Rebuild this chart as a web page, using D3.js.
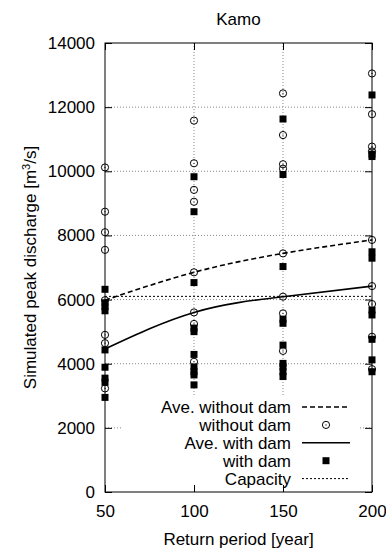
<!DOCTYPE html>
<html>
<head>
<meta charset="utf-8">
<script src="https://cdn.jsdelivr.net/npm/d3@7"></script>
<style>
  body { margin: 0; background: #fff; }
  text { font-family: "Liberation Sans", Arial, sans-serif; }
</style>
</head>
<body>
<div id="chart"></div>
<script>
// return periods (x categories)
const returnPeriods = [50, 100, 150, 200]

// simulated peaks without dam, one list per return period
const withoutDam50 = [10120, 8740, 8100, 7550, 5980, 4900, 4640, 3230]
const withoutDam100 = [11580, 10250, 9420, 9050, 6850, 5600, 5240, 4060]
const withoutDam150 = [12430, 11130, 10220, 10080, 7440, 6090, 5570, 4400]
const withoutDam200 = [13050, 11780, 10770, 10620, 7860, 6420, 5860, 4840, 3830]

// simulated peaks with dam
const withDam50 = [6320, 5900, 5780, 5650, 4430, 3890, 3550, 3420, 2950]
const withDam100 = [9830, 8740, 6530, 5110, 5000, 4290, 3900, 3750, 3650, 3340]
const withDam150 = [11630, 9900, 7030, 5390, 5260, 4580, 4010, 3910, 3750, 3600]
const withDam200 = [12380, 10530, 10460, 7490, 7290, 5670, 5520, 4760, 4120, 3750]

// averages
const aveWithoutDam = [5980, 6850, 7440, 7860]
const aveWithDam = [4460, 5600, 6090, 6420]

const capacity = 6100

const yTicks = [0, 2000, 4000, 6000, 8000, 10000, 12000, 14000]
const xTicks = [50, 100, 150, 200]

const legendLabels = ["Ave. without dam", "without dam", "Ave. with dam", "with dam", "Capacity"]

const W = 386, H = 549
const margin = { top: 43, right: 14, bottom: 57, left: 105 }
const width = W - margin.left - margin.right
const height = H - margin.top - margin.bottom

const withoutDam = [withoutDam50, withoutDam100, withoutDam150, withoutDam200]
const withDam = [withDam50, withDam100, withDam150, withDam200]

const svg = d3.select("#chart").append("svg")
  .attr("width", W)
  .attr("height", H)

const g = svg.append("g")
  .attr("transform", "translate(" + margin.left + "," + margin.top + ")")

const x = d3.scaleLinear().domain([50, 200]).range([0, width])
const y = d3.scaleLinear().domain([0, 14000]).range([height, 0])

// grid
g.append("g").selectAll("line")
  .data(yTicks.filter(d => d > 0 && d < 14000))
  .join("line")
  .attr("x1", 0).attr("x2", width)
  .attr("y1", d => y(d)).attr("y2", d => y(d))
  .attr("stroke", "#888").attr("stroke-width", 1)
  .attr("stroke-dasharray", "1,2")

g.append("g").selectAll("line")
  .data(xTicks.filter(d => d > 50 && d < 200))
  .join("line")
  .attr("x1", d => x(d)).attr("x2", d => x(d))
  .attr("y1", 0).attr("y2", height)
  .attr("stroke", "#888").attr("stroke-width", 1)
  .attr("stroke-dasharray", "1,2")

// capacity
g.append("line")
  .attr("x1", 0).attr("x2", width)
  .attr("y1", y(capacity)).attr("y2", y(capacity))
  .attr("stroke", "#000").attr("stroke-width", 1)
  .attr("stroke-dasharray", "2,2")

// averages
const line = d3.line()
  .x((d, i) => x(returnPeriods[i]))
  .y(d => y(d))
  .curve(d3.curveNatural)

g.append("path")
  .datum(aveWithoutDam)
  .attr("d", line)
  .attr("fill", "none").attr("stroke", "#000").attr("stroke-width", 1.6)
  .attr("stroke-dasharray", "5,3")

g.append("path")
  .datum(aveWithDam)
  .attr("d", line)
  .attr("fill", "none").attr("stroke", "#000").attr("stroke-width", 1.6)

// points
function circlePts(sel) {
  sel.append("circle").attr("r", 3.6)
    .attr("fill", "none").attr("stroke", "#000").attr("stroke-width", 1)
  sel.append("circle").attr("r", 0.6).attr("fill", "#000")
}
function squarePts(sel) {
  sel.append("rect").attr("x", -3.5).attr("y", -3.5)
    .attr("width", 7).attr("height", 7).attr("fill", "#000")
}

const circData = withoutDam.flatMap((arr, i) => arr.map(v => [returnPeriods[i], v]))
const sqData = withDam.flatMap((arr, i) => arr.map(v => [returnPeriods[i], v]))

g.append("g").selectAll("g")
  .data(circData)
  .join("g")
  .attr("transform", d => "translate(" + x(d[0]) + "," + y(d[1]) + ")")
  .call(circlePts)

g.append("g").selectAll("g")
  .data(sqData)
  .join("g")
  .attr("transform", d => "translate(" + x(d[0]) + "," + y(d[1]) + ")")
  .call(squarePts)

// legend box (hides grid)
g.append("rect")
  .attr("x", 16).attr("y", 354)
  .attr("width", 239).attr("height", 94)
  .attr("fill", "#fff")

const legX = 186, sampleX1 = 197, sampleX2 = 245
const legY0 = 364, legStep = 17.9
const legend = g.append("g")
legendLabels.forEach((lab, i) => {
  const ly = legY0 + i * legStep
  legend.append("text")
    .attr("x", legX).attr("y", ly)
    .attr("dy", "0.35em")
    .attr("text-anchor", "end")
    .attr("font-size", 17)
    .text(lab)
  if (i == 0) {
    legend.append("line").attr("x1", sampleX1).attr("x2", sampleX2)
      .attr("y1", ly).attr("y2", ly)
      .attr("stroke", "#000").attr("stroke-width", 1.6).attr("stroke-dasharray", "5,3")
  } else if (i == 2) {
    legend.append("line").attr("x1", sampleX1).attr("x2", sampleX2)
      .attr("y1", ly).attr("y2", ly)
      .attr("stroke", "#000").attr("stroke-width", 1.6)
  } else if (i == 4) {
    legend.append("line").attr("x1", sampleX1).attr("x2", sampleX2)
      .attr("y1", ly).attr("y2", ly)
      .attr("stroke", "#000").attr("stroke-width", 1).attr("stroke-dasharray", "2,2")
  } else if (i == 1) {
    legend.append("g").attr("transform", "translate(" + (sampleX1 + sampleX2) / 2 + "," + ly + ")").call(circlePts)
  } else {
    legend.append("g").attr("transform", "translate(" + (sampleX1 + sampleX2) / 2 + "," + ly + ")").call(squarePts)
  }
})

// axes with inward ticks on all sides
const yAxis = g.append("g")
  .call(d3.axisLeft(y).tickValues(yTicks).tickFormat(d3.format("d")).tickSize(-7).tickPadding(10))
yAxis.selectAll("text").attr("font-size", 17).attr("fill", "#000")

const xAxis = g.append("g")
  .attr("transform", "translate(0," + height + ")")
  .call(d3.axisBottom(x).tickValues(xTicks).tickFormat(d3.format("d")).tickSize(-7).tickPadding(13))
xAxis.selectAll("text").attr("font-size", 17).attr("fill", "#000")

g.append("g")
  .attr("transform", "translate(" + width + ",0)")
  .call(d3.axisRight(y).tickValues(yTicks).tickSize(-7).tickFormat(""))

g.append("g")
  .call(d3.axisTop(x).tickValues(xTicks).tickSize(-7).tickFormat(""))

g.selectAll(".domain").remove()

g.append("rect")
  .attr("width", width).attr("height", height)
  .attr("fill", "none").attr("stroke", "#000").attr("stroke-width", 1)

// titles
svg.append("text")
  .attr("x", margin.left + width / 2).attr("y", 25)
  .attr("text-anchor", "middle")
  .attr("font-size", 17)
  .text("Kamo")

svg.append("text")
  .attr("x", margin.left + width / 2).attr("y", 545)
  .attr("text-anchor", "middle")
  .attr("font-size", 17)
  .text("Return period [year]")

const yl = svg.append("text")
  .attr("transform", "translate(36," + (margin.top + height / 2) + ") rotate(-90)")
  .attr("text-anchor", "middle")
  .attr("font-size", 17)
yl.append("tspan").text("Simulated peak discharge [m")
yl.append("tspan").attr("font-size", 11).attr("dy", -6).text("3")
yl.append("tspan").attr("dy", 6).text("/s]")
</script>
</body>
</html>
